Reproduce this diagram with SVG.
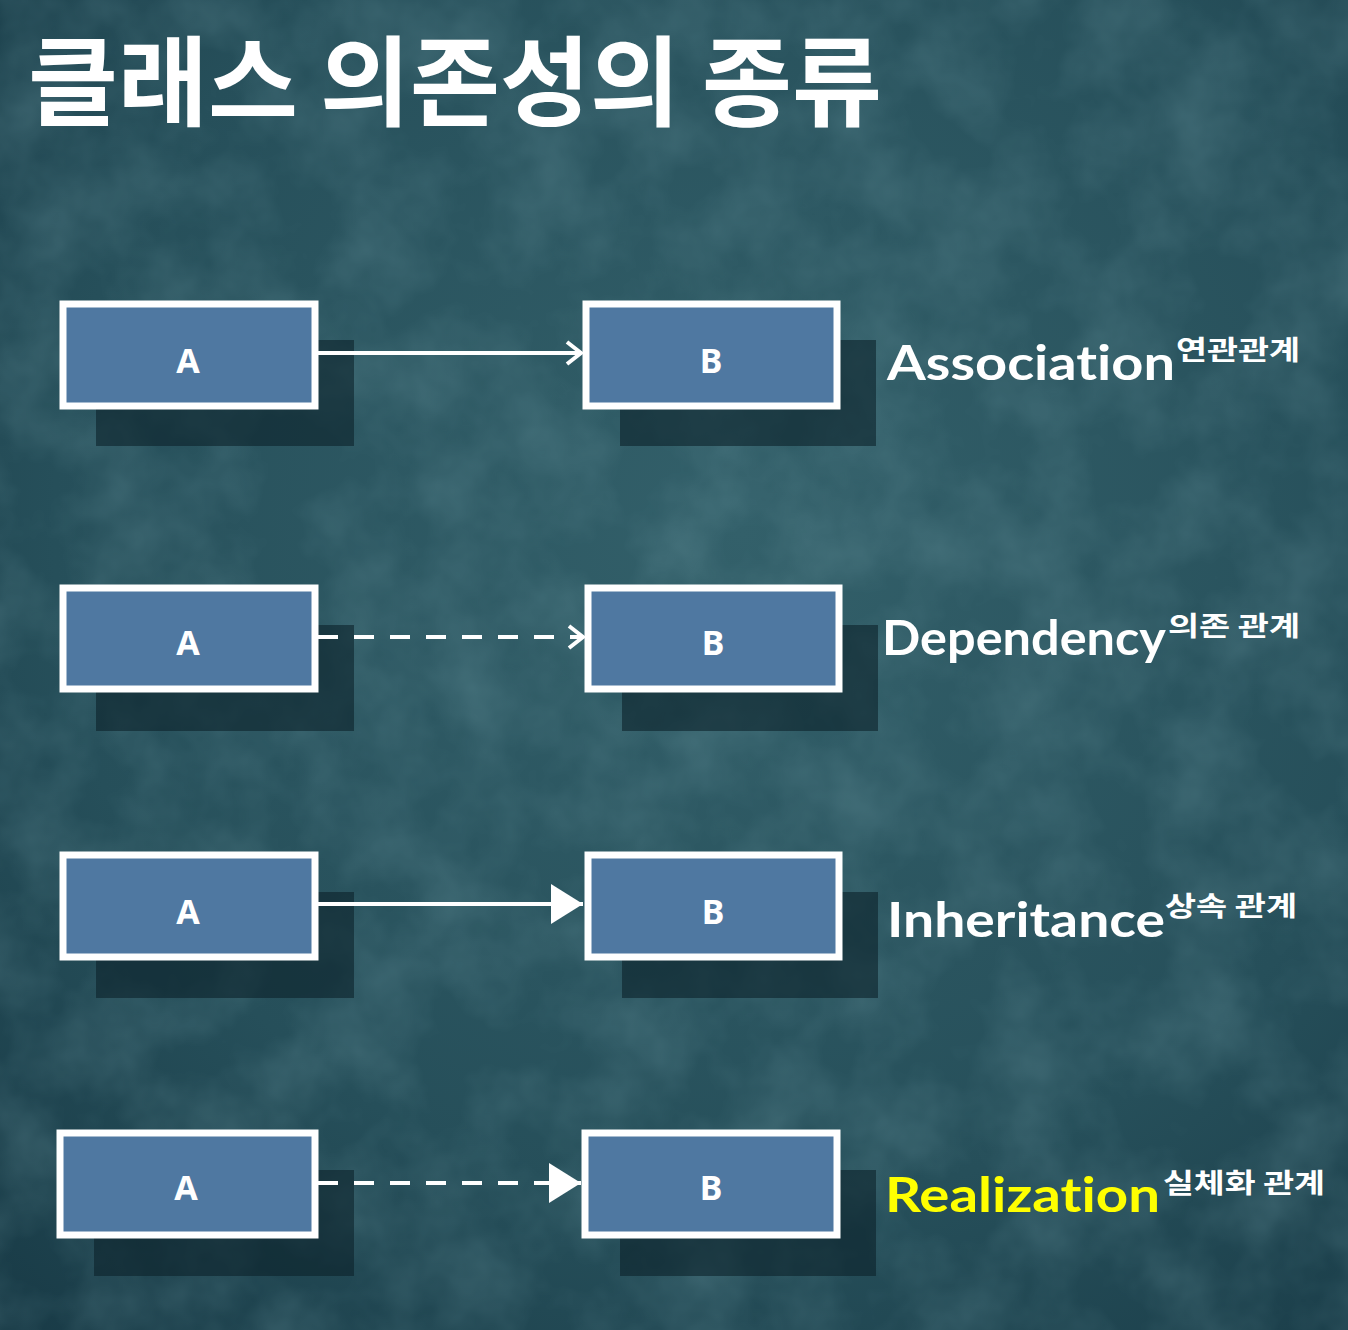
<svg xmlns="http://www.w3.org/2000/svg" width="1348" height="1330" viewBox="0 0 1348 1330">
<style>
.box{fill:#4f78a1;stroke:#ffffff;stroke-width:7}
.shadow{fill:#0c222a;opacity:0.6}
.bl{font-family:"Noto Sans","Liberation Sans",sans-serif;font-size:34px;font-weight:bold;fill:#ffffff;text-anchor:middle}
.lab{font-family:Lato,"Noto Sans",sans-serif;font-size:48px;font-weight:bold;fill:#ffffff;font-variant-ligatures:none}
.sup{font-family:"Noto Sans CJK KR",sans-serif;font-size:27px;font-weight:bold;fill:#ffffff}
.ln{stroke:#ffffff;stroke-width:4;fill:none}
.dash{stroke-dasharray:20,16}
</style>
<defs>
<radialGradient id="bg" cx="0.55" cy="0.4" r="0.85">
<stop offset="0" stop-color="#33606a"/>
<stop offset="0.6" stop-color="#264f5a"/>
<stop offset="1" stop-color="#173844"/>
</radialGradient>
<filter id="tex" x="0" y="0" width="1" height="1">
<feTurbulence type="fractalNoise" baseFrequency="0.012" numOctaves="4" seed="3"/>
<feColorMatrix type="matrix" values="0 0 0 0 0.22  0 0 0 0 0.42  0 0 0 0 0.47  0 0 0 0.9 -0.3"/>
</filter>
<marker id="open" markerWidth="32" markerHeight="32" refX="28" refY="16" orient="auto" markerUnits="userSpaceOnUse">
<path d="M14,5 L28,16 L14,27" fill="none" stroke="#ffffff" stroke-width="4"/>
</marker>
<marker id="tri" markerWidth="40" markerHeight="44" refX="36" refY="22" orient="auto" markerUnits="userSpaceOnUse">
<path d="M4,2 L36,22 L4,42 Z" fill="#ffffff"/>
</marker>
</defs>
<rect width="1348" height="1330" fill="url(#bg)"/>
<rect width="1348" height="1330" filter="url(#tex)" opacity="0.45"/>
<text x="28" y="118" font-family="'Noto Sans CJK KR',sans-serif" font-weight="bold" font-size="98" fill="#ffffff" textLength="854" lengthAdjust="spacingAndGlyphs">클래스 의존성의 종류</text>

<g id="shadows">
<rect class="shadow" x="96" y="340" width="258" height="106"/>
<rect class="shadow" x="620" y="340" width="256" height="106"/>
<rect class="shadow" x="96" y="625" width="258" height="106"/>
<rect class="shadow" x="622" y="625" width="256" height="106"/>
<rect class="shadow" x="96" y="892" width="258" height="106"/>
<rect class="shadow" x="622" y="892" width="256" height="106"/>
<rect class="shadow" x="94" y="1170" width="260" height="106"/>
<rect class="shadow" x="620" y="1170" width="256" height="106"/>
</g>

<g id="connectors">
<line class="ln" x1="318" y1="353" x2="581" y2="353" marker-end="url(#open)"/>
<line class="ln dash" x1="318" y1="637" x2="583" y2="637" marker-end="url(#open)"/>
<line class="ln" x1="318" y1="904" x2="583" y2="904" marker-end="url(#tri)"/>
<line class="ln dash" x1="318" y1="1183" x2="581" y2="1183" marker-end="url(#tri)"/>
</g>

<g id="a1"><rect class="box" x="63" y="304" width="252" height="102"/><text class="bl" x="188" y="373">A</text></g>
<g id="b1"><rect class="box" x="586" y="304" width="251" height="102"/><text class="bl" x="711" y="373">B</text></g>
<g id="a2"><rect class="box" x="63" y="588" width="252" height="101"/><text class="bl" x="188" y="655">A</text></g>
<g id="b2"><rect class="box" x="588" y="588" width="251" height="101"/><text class="bl" x="713" y="655">B</text></g>
<g id="a3"><rect class="box" x="63" y="855" width="252" height="102"/><text class="bl" x="188" y="924">A</text></g>
<g id="b3"><rect class="box" x="588" y="855" width="251" height="102"/><text class="bl" x="713" y="924">B</text></g>
<g id="a4"><rect class="box" x="60" y="1133" width="255" height="102"/><text class="bl" x="186" y="1200">A</text></g>
<g id="b4"><rect class="box" x="585" y="1133" width="252" height="102"/><text class="bl" x="711" y="1200">B</text></g>

<g id="labels">
<text class="lab" x="887" y="380" textLength="288" lengthAdjust="spacingAndGlyphs">Association</text>
<text class="sup" x="1176" y="360" textLength="124" lengthAdjust="spacingAndGlyphs">연관관계</text>
<text class="lab" x="882" y="655" textLength="284" lengthAdjust="spacingAndGlyphs">Dependency</text>
<text class="sup" x="1168" y="636" textLength="132" lengthAdjust="spacingAndGlyphs">의존 관계</text>
<text class="lab" x="887" y="937" textLength="278" lengthAdjust="spacingAndGlyphs">Inheritance</text>
<text class="sup" x="1165" y="916" textLength="132" lengthAdjust="spacingAndGlyphs">상속 관계</text>
<text class="lab" x="885" y="1212" textLength="275" lengthAdjust="spacingAndGlyphs" style="fill:#ffff00">Realization</text>
<text class="sup" x="1163" y="1193" textLength="162" lengthAdjust="spacingAndGlyphs">실체화 관계</text>
</g>
</svg>
